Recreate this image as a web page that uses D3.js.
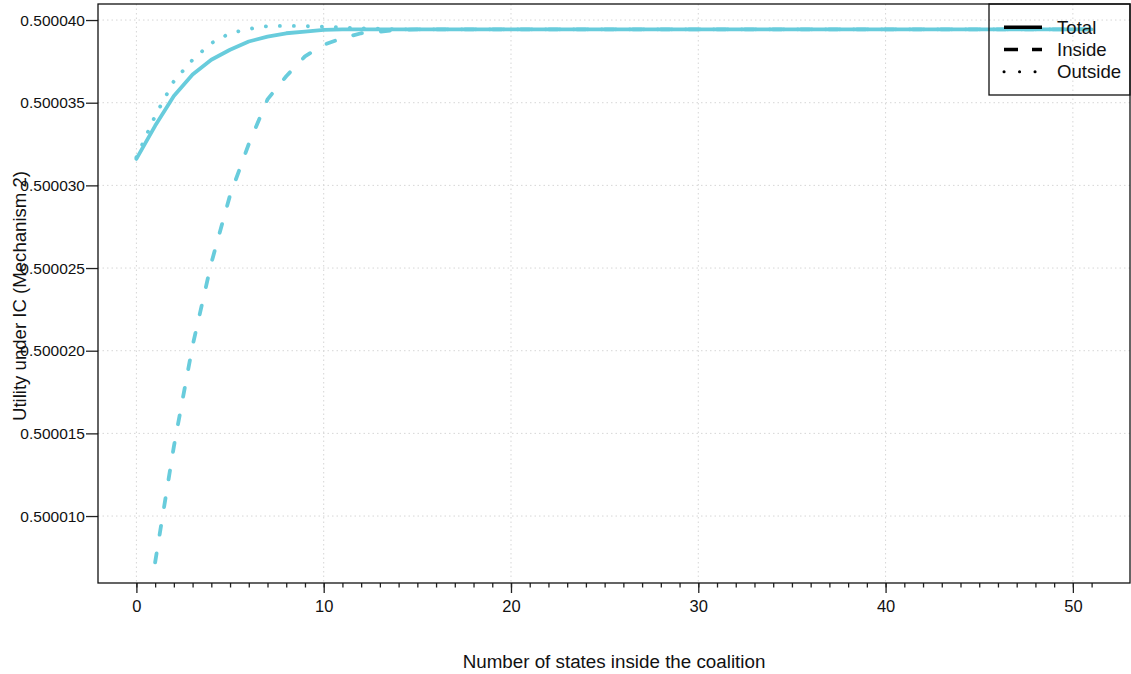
<!DOCTYPE html>
<html>
<head>
<meta charset="utf-8">
<script src="https://cdn.jsdelivr.net/npm/d3@7"></script>
<style>
body { margin: 0; background: #fff; }
svg text { font-family: "Liberation Sans", Arial, sans-serif; fill: #111; }
</style>
</head>
<body>
<div id="viz"></div>
<script>
// data
// Total: states 0..51, Inside: states 1..51, Outside: states 0..50
let totalUtility = [
    0.5000316, 0.5000336, 0.5000354, 0.5000367, 0.5000376, 0.5000382, 0.5000387, 0.5000390,
    0.5000392, 0.5000393, 0.5000394, 0.50003944, 0.50003944, 0.50003944, 0.50003944, 0.50003944,
    0.50003944, 0.50003944, 0.50003944, 0.50003944, 0.50003944, 0.50003944, 0.50003944, 0.50003944,
    0.50003944, 0.50003944, 0.50003944, 0.50003944, 0.50003944, 0.50003944, 0.50003944, 0.50003944,
    0.50003944, 0.50003944, 0.50003944, 0.50003944, 0.50003944, 0.50003944, 0.50003944, 0.50003944,
    0.50003944, 0.50003944, 0.50003944, 0.50003944, 0.50003944, 0.50003944, 0.50003944, 0.50003944,
    0.50003944, 0.50003944, 0.50003944, 0.50003944
]
let insideUtility = [
    0.5000072, 0.5000142, 0.5000203, 0.5000253, 0.5000294, 0.5000325, 0.5000352, 0.5000366,
    0.5000378, 0.5000385, 0.5000389, 0.5000392, 0.5000393, 0.5000394, 0.50003944, 0.50003944,
    0.50003944, 0.50003944, 0.50003944, 0.50003944, 0.50003944, 0.50003944, 0.50003944, 0.50003944,
    0.50003944, 0.50003944, 0.50003944, 0.50003944, 0.50003944, 0.50003944, 0.50003944, 0.50003944,
    0.50003944, 0.50003944, 0.50003944, 0.50003944, 0.50003944, 0.50003944, 0.50003944, 0.50003944,
    0.50003944, 0.50003944, 0.50003944, 0.50003944, 0.50003944, 0.50003944, 0.50003944, 0.50003944,
    0.50003944, 0.50003944, 0.50003944
]
let outsideUtility = [
    0.5000317, 0.5000342, 0.5000363, 0.5000376, 0.5000386, 0.5000392, 0.50003946, 0.50003963,
    0.50003965, 0.50003963, 0.5000396, 0.50003955, 0.5000395, 0.50003948, 0.50003944, 0.50003944,
    0.50003944, 0.50003944, 0.50003944, 0.50003944, 0.50003944, 0.50003944, 0.50003944, 0.50003944,
    0.50003944, 0.50003944, 0.50003944, 0.50003944, 0.50003944, 0.50003944, 0.50003944, 0.50003944,
    0.50003944, 0.50003944, 0.50003944, 0.50003944, 0.50003944, 0.50003944, 0.50003944, 0.50003944,
    0.50003944, 0.50003944, 0.50003944, 0.50003944, 0.50003944, 0.50003944, 0.50003944, 0.50003944,
    0.50003944, 0.50003944, 0.50003944
]
let xMajorTicks = [0, 10, 20, 30, 40, 50]
let yTicks = [0.500010, 0.500015, 0.500020, 0.500025, 0.500030, 0.500035, 0.500040]
let legendLabels = ["Total", "Inside", "Outside"]

let margin = { left: 98, right: 1, top: 4, bottom: 91 }
let width = 1131 - margin.left - margin.right
let height = 674 - margin.top - margin.bottom
let lineColor = "#68ccdc"

let root = d3.select("#viz").append("svg")
    .attr("width", 1131)
    .attr("height", 674)

let svg = root.append("g")
    .attr("transform", "translate(" + margin.left + "," + margin.top + ")")

// scales
let xScale = d3.scaleLinear().domain([-2.05, 53.05]).range([0, width])
let yScale = d3.scaleLinear().domain([0.50000595, 0.50004097]).range([height, 0])

// grid
svg.append("g").selectAll("line")
    .data(xMajorTicks)
    .join("line")
        .attr("x1", d => xScale(d)).attr("x2", d => xScale(d))
        .attr("y1", 0).attr("y2", height)
        .attr("stroke", "#d6d6d6").attr("stroke-dasharray", "1.5,3")
svg.append("g").selectAll("line")
    .data(yTicks)
    .join("line")
        .attr("x1", 0).attr("x2", width)
        .attr("y1", d => yScale(d)).attr("y2", d => yScale(d))
        .attr("stroke", "#d6d6d6").attr("stroke-dasharray", "1.5,3")

// series
let series = [
    { name: "Total", start: 0, values: totalUtility, dash: null },
    { name: "Inside", start: 1, values: insideUtility, dash: "9,19" },
    { name: "Outside", start: 0, values: outsideUtility, dash: "0.1,13.9" }
]

let line = d3.line()
    .x(d => xScale(d[0]))
    .y(d => yScale(d[1]))

series.forEach(s => {
    let pts = s.values.map((v, i) => [s.start + i, v])
    svg.append("path")
        .datum(pts)
        .attr("d", line)
        .attr("fill", "none")
        .attr("stroke", lineColor)
        .attr("stroke-width", 3.8)
        .attr("stroke-linecap", "round")
        .attr("stroke-linejoin", "round")
        .attr("stroke-dasharray", s.dash)
})

// axes
let xMinor = d3.axisBottom(xScale)
    .tickValues(d3.range(0, 52))
    .tickSize(4.5)
    .tickFormat("")
let xMajor = d3.axisBottom(xScale)
    .tickValues(xMajorTicks)
    .tickSize(10)
    .tickPadding(7)
let yAxis = d3.axisLeft(yScale)
    .tickValues(yTicks)
    .tickSize(12)
    .tickPadding(1)
    .tickFormat(d3.format(".6f"))

svg.append("g").attr("transform", `translate(0,${height})`).call(xMinor)
    .call(g => g.select(".domain").remove())
svg.append("g").attr("transform", `translate(0,${height})`).call(xMajor)
    .call(g => g.select(".domain").remove())
    .selectAll("text").attr("font-size", 16.5).attr("fill", "#111")
svg.append("g").call(yAxis)
    .call(g => g.select(".domain").remove())
    .selectAll("text").attr("font-size", 15.5).attr("fill", "#111")
svg.selectAll(".tick line").attr("stroke", "#222").attr("stroke-width", 1.3)

// box
svg.append("rect")
    .attr("x", 0).attr("y", 0)
    .attr("width", width).attr("height", height)
    .attr("fill", "none").attr("stroke", "#111").attr("stroke-width", 1.3)

// axis titles
root.append("text")
    .attr("x", 614).attr("y", 668)
    .attr("text-anchor", "middle")
    .attr("font-size", 18.8)
    .text("Number of states inside the coalition")
root.append("text")
    .attr("transform", "translate(26,296) rotate(-90)")
    .attr("text-anchor", "middle")
    .attr("font-size", 18.6)
    .text("Utility under IC (Mechanism 2)")

// legend
let legend = svg.append("g").attr("transform", "translate(891,0)")
legend.append("rect")
    .attr("x", 0).attr("y", 0)
    .attr("width", width - 891).attr("height", 91)
    .attr("fill", "none").attr("stroke", "#111").attr("stroke-width", 1.3)
let legendDash = [null, "14,14", "0.1,15.4"]
let legendCap = ["butt", "butt", "round"]
let legendWidth = [3.6, 3.6, 3]
legendLabels.forEach((lab, i) => {
    let y = 23.3 + i * 22.2
    legend.append("line")
        .attr("x1", 15).attr("x2", 53)
        .attr("y1", y).attr("y2", y)
        .attr("stroke", "#000")
        .attr("stroke-width", legendWidth[i])
        .attr("stroke-linecap", legendCap[i])
        .attr("stroke-dasharray", legendDash[i])
    legend.append("text")
        .attr("x", 68).attr("y", y + 6.3)
        .attr("font-size", 18.6)
        .text(lab)
})
</script>
</body>
</html>
